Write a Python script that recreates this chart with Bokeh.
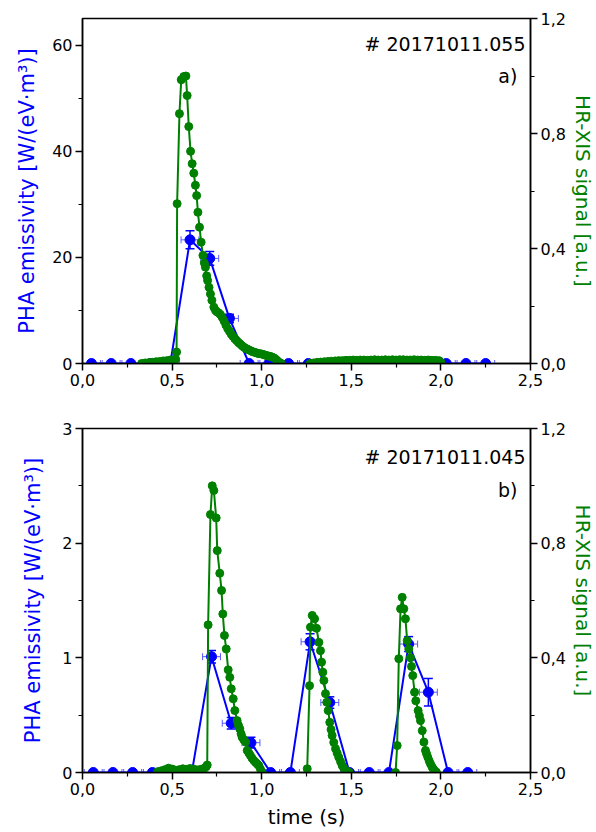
import numpy as np
from bokeh.plotting import figure
from bokeh.models import Range1d, LinearAxis, FixedTicker, CustomJSTickFormatter, Label
from bokeh.layouts import column
from bokeh.embed import file_html
from bokeh.resources import INLINE

# ---------------- data: panel a) shot 20171011.055 ----------------
shot_a = "# 20171011.055"
tag_a = "a)"
t_pha_a = [0.05, 0.16, 0.27, 0.38, 0.49, 0.60, 0.71, 0.82, 0.93, 1.04, 1.15,
           1.26, 1.37, 1.48, 1.59, 1.70, 1.81, 1.92, 2.03, 2.14, 2.25]
pha_a = [0, 0, 0, 0, 0, 23.3, 19.8, 8.5, 0, 0, 0,
         0, 0, 0, 0, 0, 0, 0, 0, 0, 0]
pha_a_err = [0, 0, 0, 0, 0, 1.7, 1.3, 0.8, 0, 0, 0,
             0, 0, 0, 0, 0, 0, 0, 0, 0, 0]
t_xis_a = [0.33, 0.35, 0.37, 0.39, 0.41, 0.43, 0.45, 0.47, 0.49, 0.51, 0.52, 0.525,
           0.528, 0.541, 0.551, 0.565, 0.577, 0.584, 0.593, 0.603, 0.612, 0.621,
           0.630, 0.637, 0.644, 0.653, 0.662, 0.672, 0.680, 0.686, 0.693, 0.698,
           0.706, 0.714, 0.722, 0.733, 0.742, 0.750, 0.760, 0.770, 0.780, 0.790,
           0.800, 0.810, 0.820, 0.830, 0.840, 0.850, 0.860, 0.870, 0.880, 0.890,
           0.900, 0.910, 0.920, 0.930, 0.940, 0.950, 0.960, 0.970, 0.980, 0.990,
           1.000, 1.010, 1.020, 1.030, 1.040, 1.050, 1.060, 1.070, 1.080, 1.090,
           1.100, 1.110, 1.19,
           1.27, 1.29, 1.31, 1.33, 1.35, 1.37, 1.39, 1.41, 1.43, 1.45, 1.47, 1.49,
           1.51, 1.53, 1.55, 1.57, 1.59, 1.61, 1.63, 1.65, 1.67, 1.69, 1.71, 1.73,
           1.75, 1.77, 1.79, 1.81, 1.83, 1.85, 1.87, 1.89, 1.91, 1.93, 1.95, 1.97,
           1.99, 2.00]
xis_a = [0.000, 0.002, 0.003, 0.004, 0.006, 0.007, 0.009, 0.010, 0.012, 0.013, 0.015, 0.040,
         0.556, 0.869, 0.987, 0.998, 1.000, 0.932, 0.824, 0.738, 0.695, 0.662,
         0.620, 0.584, 0.526, 0.474, 0.422, 0.376, 0.350, 0.335, 0.305, 0.289,
         0.265, 0.242, 0.220, 0.196, 0.185, 0.180, 0.176, 0.170, 0.160, 0.148,
         0.134, 0.122, 0.112, 0.102, 0.094, 0.086, 0.080, 0.073, 0.068, 0.062,
         0.057, 0.053, 0.050, 0.047, 0.044, 0.041, 0.039, 0.037, 0.035, 0.034,
         0.033, 0.031, 0.029, 0.027, 0.026, 0.024, 0.022, 0.019, 0.014, 0.008,
         0.003, 0.000, float("nan"),
         0.000, 0.002, 0.004, 0.005, 0.006, 0.007, 0.008, 0.009, 0.010, 0.010, 0.011, 0.011,
         0.012, 0.011, 0.012, 0.012, 0.011, 0.012, 0.013, 0.012, 0.012, 0.013, 0.012, 0.013,
         0.012, 0.013, 0.013, 0.012, 0.012, 0.013, 0.012, 0.012, 0.011, 0.012, 0.011, 0.011,
         0.010, 0.004]

# ---------------- data: panel b) shot 20171011.045 ----------------
shot_b = "# 20171011.045"
tag_b = "b)"
t_pha_b = [0.06, 0.17, 0.28, 0.39, 0.50, 0.61, 0.72, 0.83, 0.94, 1.05,
           1.16, 1.27, 1.38, 1.49, 1.60, 1.71, 1.82, 1.93, 2.04, 2.15]
pha_b = [0, 0, 0, 0, 0, 0, 1.01, 0.43, 0.26, 0,
         0, 1.14, 0.61, 0, 0, 0, 1.12, 0.70, 0, 0]
pha_b_err = [0, 0, 0, 0, 0, 0, 0.055, 0.05, 0.047, 0,
             0, 0.07, 0.05, 0, 0, 0, 0.065, 0.12, 0, 0]
t_xis_b = [0.42, 0.44, 0.46, 0.48, 0.50, 0.52, 0.54, 0.56, 0.58, 0.60, 0.62, 0.64,
           0.66, 0.68, 0.69, 0.696,
           0.701, 0.714, 0.724, 0.733, 0.746, 0.752, 0.766, 0.776, 0.783, 0.792,
           0.802, 0.813, 0.822, 0.830, 0.841, 0.850, 0.863, 0.870, 0.878, 0.885,
           0.891, 0.900, 0.910, 0.919, 0.928, 0.937, 0.946, 0.956, 0.965, 0.975,
           0.984, 0.993, 1.003, 1.13,
           1.254, 1.267, 1.272, 1.282, 1.295, 1.306, 1.319, 1.328, 1.334, 1.341,
           1.347, 1.356, 1.363, 1.371, 1.380, 1.387, 1.393, 1.402, 1.412, 1.421,
           1.430, 1.440, 1.449, 1.458, 1.468, 1.478, 1.488, 1.62,
           1.747, 1.756, 1.765, 1.775, 1.784, 1.793, 1.802, 1.812, 1.821, 1.830,
           1.836, 1.843, 1.853, 1.860, 1.873, 1.880, 1.886, 1.896, 1.905, 1.914,
           1.920, 1.927, 1.935, 1.942, 1.950, 1.957, 1.966, 1.975]
xis_b = [0.003, 0.006, 0.010, 0.015, 0.012, 0.008, 0.010, 0.013, 0.011, 0.014, 0.012, 0.009,
         0.011, 0.015, 0.020, 0.026,
         0.515, 0.900, 1.000, 0.984, 0.888, 0.774, 0.695, 0.635, 0.553, 0.478,
         0.431, 0.358, 0.332, 0.292, 0.257, 0.216, 0.181, 0.165, 0.152, 0.135,
         0.123, 0.114, 0.106, 0.077, 0.068, 0.059, 0.050, 0.042, 0.036, 0.030,
         0.024, 0.012, 0.001, float("nan"),
         0.013, 0.303, 0.507, 0.548, 0.536, 0.503, 0.454, 0.425, 0.385, 0.350,
         0.321, 0.275, 0.245, 0.216, 0.175, 0.150, 0.129, 0.105, 0.083, 0.068,
         0.053, 0.038, 0.024, 0.015, 0.007, 0.003, 0.000, float("nan"),
         0.000, 0.094, 0.397, 0.571, 0.611, 0.571, 0.536, 0.460, 0.431, 0.400,
         0.370, 0.338, 0.280, 0.250, 0.216, 0.198, 0.181, 0.146, 0.106, 0.077,
         0.065, 0.053, 0.040, 0.030, 0.020, 0.013, 0.006, 0.001]

t_xerr = 0.05  # horizontal (time) uncertainty of PHA points

x_ticks = [0.0, 0.5, 1.0, 1.5, 2.0, 2.5]
x_minor = [0.25, 0.75, 1.25, 1.75, 2.25]
r_ticks = [0.0, 0.4, 0.8, 1.2]
r_minor = [0.2, 0.6, 1.0]
la_ticks = [0, 20, 40, 60]
la_minor = [10, 30, 50]
lb_ticks = [0, 1, 2, 3]
lb_minor = [0.5, 1.5, 2.5]

left_label = "PHA emissivity [W/(eV\u00b7m\u00b3)]"
right_label = "HR-XIS signal [a.u.]"
x_label = "time (s)"

BLUE = "#0000ff"
LBLUE = "#5a5aff"
GREEN = "#008000"
FONT = "DejaVu Sans"
comma1 = CustomJSTickFormatter(code="return tick.toFixed(1).replace('.', ',');")


def style_axis(ax, label_color="black"):
    ax.axis_line_width = 1.5
    ax.axis_line_color = "black"
    ax.major_tick_line_color = "black"
    ax.minor_tick_line_color = "black"
    ax.major_tick_line_width = 1.5
    ax.minor_tick_line_width = 1.2
    ax.major_tick_out = 7
    ax.major_tick_in = 0
    ax.minor_tick_out = 4
    ax.minor_tick_in = 0
    ax.major_label_text_font = FONT
    ax.major_label_text_font_size = "16px"
    ax.major_label_text_color = "black"
    ax.major_label_standoff = 3
    ax.axis_label_text_font = FONT
    ax.axis_label_text_font_style = "normal"
    ax.axis_label_text_font_size = "20px"
    ax.axis_label_text_color = label_color


def panel(frame_h, b_top, b_bottom, ymax, lt, lm, lfmt, t_p, v_p, e_p, t_x, v_x,
          shot, tag, y_shot, y_tag, left_standoff, show_xlabel):
    p = figure(frame_width=448, frame_height=frame_h, output_backend="svg", toolbar_location=None,
               x_range=Range1d(0, 2.5), y_range=Range1d(0, ymax),
               min_border_left=82, min_border_right=64,
               min_border_top=b_top, min_border_bottom=b_bottom)
    p.extra_y_ranges = {"r": Range1d(0, 1.2)}
    p.xgrid.visible = False
    p.ygrid.visible = False
    p.outline_line_color = "black"
    p.outline_line_width = 1.5
    p.background_fill_color = "white"
    p.border_fill_color = "white"

    p.xaxis.ticker = FixedTicker(ticks=x_ticks, minor_ticks=x_minor)
    p.xaxis.formatter = comma1
    style_axis(p.xaxis[0])
    if show_xlabel:
        p.xaxis.axis_label = x_label
        p.xaxis.axis_label_standoff = 7

    p.yaxis.ticker = FixedTicker(ticks=lt, minor_ticks=lm)
    p.yaxis.formatter = CustomJSTickFormatter(code=lfmt)
    style_axis(p.yaxis[0], BLUE)
    p.yaxis.axis_label = left_label
    p.yaxis.axis_label_standoff = left_standoff
    p.yaxis.axis_label_text_font_size = "21px"

    rax = LinearAxis(y_range_name="r", ticker=FixedTicker(ticks=r_ticks, minor_ticks=r_minor),
                     formatter=comma1, axis_label=right_label)
    style_axis(rax, GREEN)
    rax.axis_label_standoff = 2
    p.add_layout(rax, "right")

    # PHA (blue) with error bars
    tp = np.array(t_p)
    vp = np.array(v_p, dtype=float)
    ep = np.array(e_p, dtype=float)
    p.segment(x0=tp - t_xerr, y0=vp, x1=tp + t_xerr, y1=vp, line_color=LBLUE, line_width=1)
    p.scatter(x=np.concatenate([tp - t_xerr, tp + t_xerr]), y=np.concatenate([vp, vp]),
              marker="dash", angle=np.pi / 2, size=7, line_color=LBLUE, line_width=1)
    m = ep > 0
    p.segment(x0=tp[m], y0=vp[m] - ep[m], x1=tp[m], y1=vp[m] + ep[m], line_color=BLUE, line_width=1.5)
    p.scatter(x=np.concatenate([tp[m], tp[m]]), y=np.concatenate([vp[m] - ep[m], vp[m] + ep[m]]),
              marker="dash", size=9, line_color=BLUE, line_width=1.5)
    p.line(tp, vp, line_color=BLUE, line_width=2)
    p.scatter(tp, vp, marker="circle", size=10, fill_color=BLUE, line_color=BLUE)

    # HR-XIS (green)
    p.line(t_x, v_x, y_range_name="r", line_color=GREEN, line_width=2)
    p.scatter(t_x, v_x, y_range_name="r", marker="circle", size=8,
              fill_color=GREEN, line_color=GREEN)

    p.add_layout(Label(x=2.472, y=y_shot, text=shot, text_align="right", text_baseline="middle",
                       text_font=FONT, text_font_size="19px", text_color="black"))
    p.add_layout(Label(x=2.427, y=y_tag, text=tag, text_align="right", text_baseline="middle",
                       text_font=FONT, text_font_size="19px", text_color="black"))
    return p


p1 = panel(345, 18, 45, 65, la_ticks, la_minor, "return tick.toFixed(0);",
           t_pha_a, pha_a, pha_a_err, t_xis_a, xis_a, shot_a, tag_a, 60.2, 54.1, 10, False)
p2 = panel(344, 20, 60, 3, lb_ticks, lb_minor, "return tick.toFixed(0);",
           t_pha_b, pha_b, pha_b_err, t_xis_b, xis_b, shot_b, tag_b, 2.755, 2.467, 14, True)

layout = column(p1, p2)
open("out.html", "w").write(file_html(layout, INLINE))
